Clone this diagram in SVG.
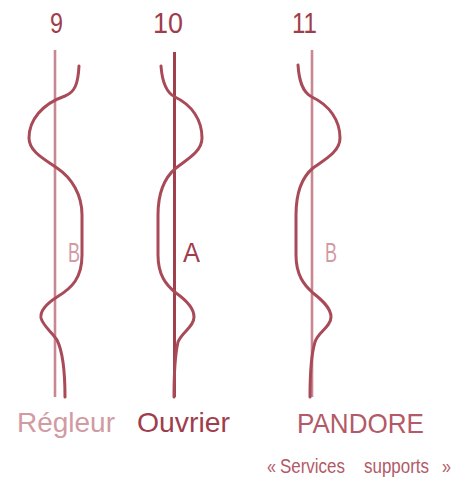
<svg xmlns="http://www.w3.org/2000/svg" width="454" height="477" viewBox="0 0 454 477">
<style>
.t{font-family:"Liberation Sans","DejaVu Sans",sans-serif;}
.dark{fill:#9f3d4c;}
.light{fill:#d29aa3;}
.mid{fill:#b35a68;}
.vl{stroke:#c98891;stroke-width:2.6;fill:none;}
.vd{stroke:#a0404f;stroke-width:3;fill:none;}
.cv{stroke:#a84a58;stroke-width:3;fill:none;stroke-linecap:round;}
</style>
<rect width="454" height="477" fill="#ffffff"/>
<g id="col9">
<text class="t dark" x="50" y="33" font-size="29" textLength="13" lengthAdjust="spacingAndGlyphs">9</text>
<line class="vl" x1="55" y1="50" x2="55" y2="397"/>
<text class="t light" x="68" y="262" font-size="28" textLength="12" lengthAdjust="spacingAndGlyphs">B</text>
<text class="t light" x="17" y="432" font-size="28" textLength="98" lengthAdjust="spacingAndGlyphs">Régleur</text>
</g>
<g id="col10">
<text class="t dark" x="153" y="33" font-size="29" textLength="30" lengthAdjust="spacingAndGlyphs">10</text>
<line class="vd" x1="174.5" y1="52" x2="174.5" y2="397"/>
<text class="t dark" x="183" y="262" font-size="28" textLength="17" lengthAdjust="spacingAndGlyphs">A</text>
<text class="t dark" x="137" y="432" font-size="28" textLength="93" lengthAdjust="spacingAndGlyphs">Ouvrier</text>
</g>
<g id="col11">
<text class="t dark" x="292" y="33" font-size="29" textLength="25" lengthAdjust="spacingAndGlyphs">11</text>
<line class="vl" x1="312" y1="50" x2="312" y2="397"/>
<text class="t light" x="325" y="262" font-size="28" textLength="12" lengthAdjust="spacingAndGlyphs">B</text>
<text class="t mid" x="297" y="433" font-size="28" textLength="127" lengthAdjust="spacingAndGlyphs">PANDORE</text>
<text class="t mid" y="473" font-size="20"><tspan x="267" textLength="9" lengthAdjust="spacingAndGlyphs">«</tspan><tspan x="280" textLength="65" lengthAdjust="spacingAndGlyphs">Services</tspan><tspan x="364" textLength="65" lengthAdjust="spacingAndGlyphs">supports</tspan><tspan x="442" textLength="9" lengthAdjust="spacingAndGlyphs">»</tspan></text>
</g>
<g id="connectors">
<path class="cv" d="M79,66 C78,84 75,92 65,96 C42,104 29,120 29,138 C29,152 46,160 57,168 C72,178 82,195 82,215 L82,255 C82,278 72,288 57,297 C46,304 40,311 41,318 C43,326 52,332 57,340 C63,352 65,370 65,397"/>
<path class="cv" d="M161,66 C162,80 165,92 175,97 C192,105 202,120 202,138 C202,152 186,160 176,168 C164,178 158,195 158,215 L158,255 C158,275 166,285 176,293 C186,300 194,308 194,317 C194,327 182,332 178,342 C175,355 174,375 174,397"/>
<path class="cv" d="M298,65 C299,80 302,92 312,97 C329,105 340,120 340,138 C340,152 324,160 313,168 C301,178 296,195 296,215 L296,255 C296,275 304,285 313,293 C322,300 331,308 331,317 C331,327 318,332 315,342 C311,355 310,375 310,397"/>
</g>
</svg>
